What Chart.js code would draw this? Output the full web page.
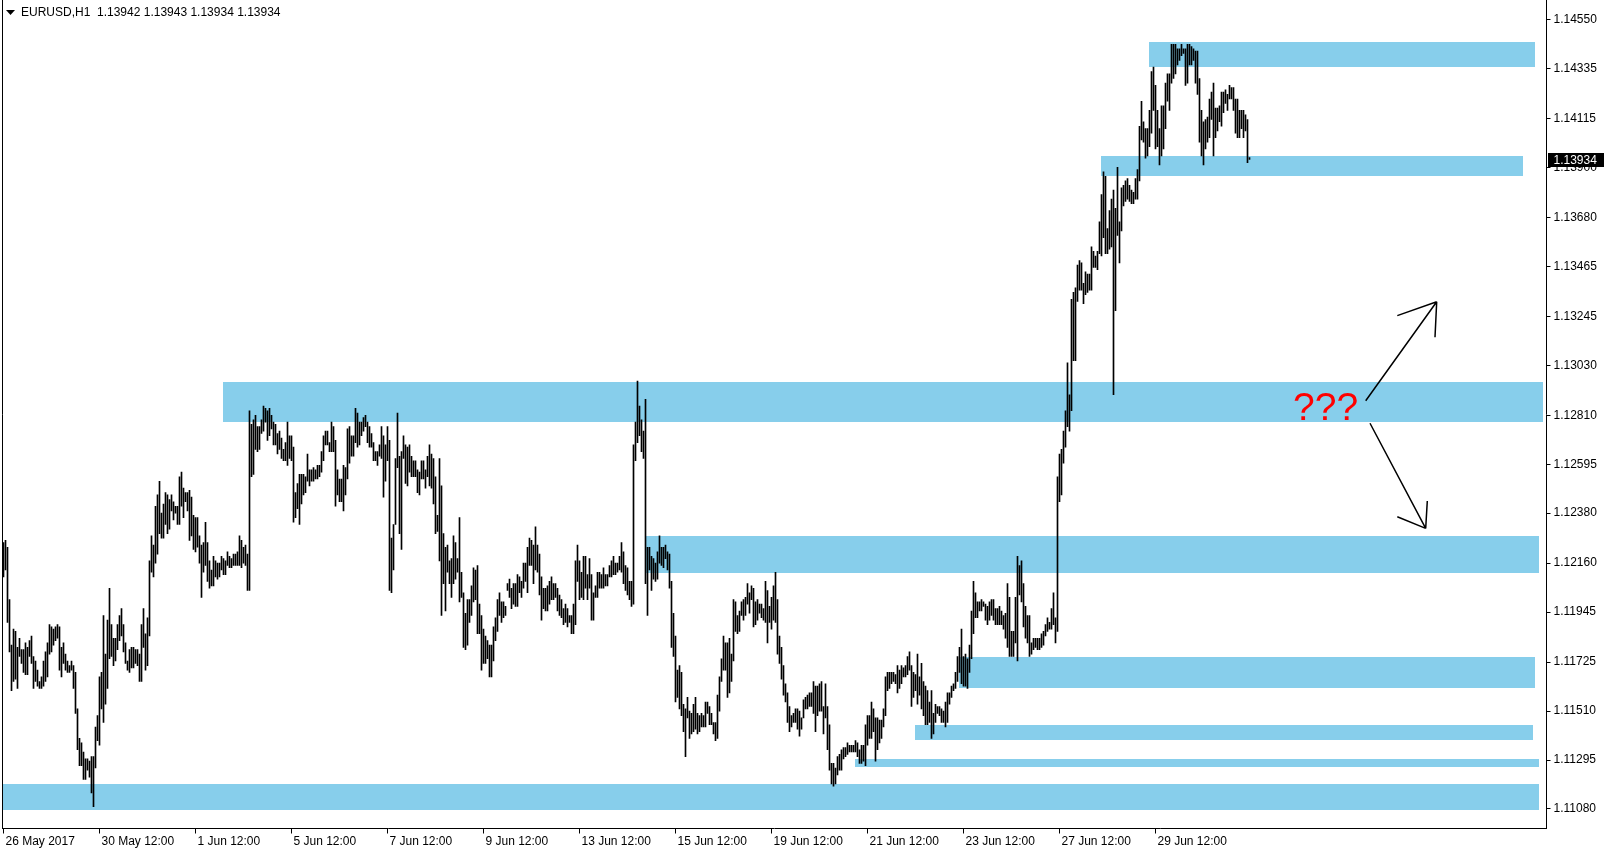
<!DOCTYPE html>
<html>
<head>
<meta charset="utf-8">
<script src="https://cdn.jsdelivr.net/npm/chart.js@4"></script>
<style>
  html, body { margin: 0; padding: 0; background: #fff; }
  canvas { display: block; }
</style>
</head>
<body>
<canvas id="grafica" width="1606" height="852"></canvas>
<script>
// EURUSD H1, one bar per hour starting 26 May 2017 12:00
const highs = [
  1.1225,1.1226,1.1223,1.1200,1.1180,1.1187,1.1186,1.1179,1.1183,1.1178,
  1.1178,1.1181,1.1179,1.1182,1.1184,1.1175,1.1173,1.1169,1.1164,1.1166,
  1.1173,1.1177,1.1181,1.1189,1.1188,1.1187,1.1188,1.1189,1.1188,1.1179,
  1.1181,1.1176,1.1173,1.1171,1.1173,1.1171,1.1168,1.1152,1.1139,1.1137,
  1.1133,1.1130,1.1130,1.1129,1.1131,1.1131,1.1144,1.1149,1.1166,1.1168,
  1.1193,1.1176,1.1191,1.1205,1.1189,1.1183,1.1183,1.1189,1.1193,1.1196,
  1.1189,1.1181,1.1173,1.1178,1.1179,1.1179,1.1178,1.1178,1.1176,1.1189,
  1.1196,1.1185,1.1192,1.1217,1.1228,1.1224,1.1241,1.1246,1.1252,1.1238,
  1.1242,1.1247,1.1246,1.1244,1.1246,1.1243,1.1241,1.1241,1.1254,1.1256,
  1.1249,1.1247,1.1247,1.1248,1.1245,1.1237,1.1236,1.1236,1.1228,1.1224,
  1.1225,1.1234,1.1225,1.1217,1.1213,1.1219,1.1217,1.1216,1.1216,1.1219,
  1.1218,1.1217,1.1221,1.1219,1.1218,1.1220,1.1220,1.1221,1.1228,1.1226,
  1.1223,1.1224,1.1220,1.1283,1.1277,1.1279,1.1281,1.1276,1.1276,1.1279,
  1.1285,1.1284,1.1283,1.1284,1.1281,1.1278,1.1277,1.1273,1.1274,1.1271,
  1.1266,1.1269,1.1278,1.1272,1.1272,1.1267,1.1247,1.1251,1.1255,1.1255,
  1.1255,1.1254,1.1264,1.1257,1.1257,1.1258,1.1257,1.1259,1.1259,1.1265,
  1.1272,1.1274,1.1274,1.1269,1.1278,1.1276,1.1270,1.1257,1.1253,1.1253,
  1.1259,1.1258,1.1275,1.1276,1.1272,1.1272,1.1284,1.1282,1.1278,1.1278,
  1.1280,1.1281,1.1278,1.1276,1.1273,1.1269,1.1265,1.1265,1.1268,1.1276,
  1.1272,1.1268,1.1276,1.1270,1.1227,1.1233,1.1262,1.1282,1.1263,1.1265,
  1.1272,1.1268,1.1267,1.1268,1.1263,1.1261,1.1261,1.1257,1.1256,1.1261,
  1.1261,1.1257,1.1263,1.1268,1.1264,1.1262,1.1254,1.1237,1.1262,1.1250,
  1.1229,1.1223,1.1224,1.1217,1.1218,1.1228,1.1225,1.1218,1.1236,1.1212,
  1.1203,1.1194,1.1200,1.1200,1.1206,1.1214,1.1213,1.1215,1.1198,1.1193,
  1.1187,1.1184,1.1182,1.1180,1.1180,1.1188,1.1192,1.1200,1.1203,1.1199,
  1.1199,1.1197,1.1207,1.1209,1.1205,1.1207,1.1207,1.1211,1.1210,1.1208,
  1.1216,1.1216,1.1223,1.1227,1.1226,1.1224,1.1232,1.1224,1.1220,1.1210,
  1.1205,1.1205,1.1206,1.1208,1.1210,1.1207,1.1207,1.1205,1.1202,1.1200,
  1.1196,1.1198,1.1196,1.1193,1.1193,1.1198,1.1217,1.1224,1.1217,1.1212,
  1.1219,1.1219,1.1211,1.1218,1.1211,1.1203,1.1206,1.1212,1.1212,1.1211,
  1.1214,1.1211,1.1211,1.1215,1.1217,1.1219,1.1216,1.1216,1.1219,1.1225,
  1.1221,1.1215,1.1214,1.1208,1.1208,1.1268,1.1278,1.1296,1.1285,1.1279,
  1.1274,1.1288,1.1223,1.1223,1.1219,1.1218,1.1216,1.1221,1.1228,1.1223,
  1.1223,1.1224,1.1221,1.1220,1.1208,1.1194,1.1184,1.1169,1.1171,1.1168,
  1.1154,1.1152,1.1157,1.1151,1.1150,1.1154,1.1157,1.1150,1.1149,1.1150,
  1.1149,1.1155,1.1155,1.1153,1.1150,1.1146,1.1146,1.1158,1.1166,1.1174,
  1.1184,1.1181,1.1181,1.1183,1.1176,1.1200,1.1199,1.1193,1.1195,1.1199,
  1.1200,1.1201,1.1207,1.1203,1.1206,1.1205,1.1199,1.1200,1.1198,1.1198,
  1.1196,1.1208,1.1204,1.1197,1.1201,1.1206,1.1212,1.1200,1.1184,1.1179,
  1.1171,1.1163,1.1159,1.1153,1.1149,1.1150,1.1152,1.1152,1.1151,1.1148,
  1.1156,1.1157,1.1158,1.1159,1.1159,1.1164,1.1162,1.1162,1.1163,1.1164,
  1.1153,1.1163,1.1153,1.1145,1.1128,1.1128,1.1126,1.1131,1.1132,1.1134,
  1.1135,1.1135,1.1137,1.1136,1.1136,1.1136,1.1138,1.1137,1.1134,1.1136,
  1.1136,1.1145,1.1149,1.1149,1.1155,1.1152,1.1148,1.1148,1.1147,1.1147,
  1.1152,1.1166,1.1168,1.1168,1.1168,1.1168,1.1167,1.1171,1.1169,1.1171,
  1.1170,1.1171,1.1175,1.1177,1.1171,1.1168,1.1167,1.1176,1.1166,1.1172,
  1.1164,1.1162,1.1160,1.1155,1.1160,1.1150,1.1154,1.1153,1.1153,1.1152,
  1.1151,1.1155,1.1159,1.1159,1.1162,1.1163,1.1168,1.1175,1.1179,1.1187,
  1.1175,1.1176,1.1174,1.1180,1.1195,1.1208,1.1203,1.1199,1.1199,1.1200,
  1.1199,1.1198,1.1197,1.1199,1.1200,1.1200,1.1196,1.1196,1.1197,1.1195,
  1.1193,1.1194,1.1207,1.1201,1.1186,1.1186,1.1201,1.1219,1.1215,1.1217,
  1.1207,1.1197,1.1193,1.1193,1.1181,1.1183,1.1183,1.1183,1.1183,1.1185,
  1.1186,1.1189,1.1192,1.1190,1.1196,1.1203,1.1192,1.1254,1.1264,1.1266,
  1.1274,1.1283,1.1304,1.1290,1.1332,1.1335,1.1337,1.1347,1.1349,1.1348,
  1.1339,1.1344,1.1343,1.1343,1.1355,1.1353,1.1351,1.1353,1.1366,1.1378,
  1.1388,1.1386,1.1363,1.1371,1.1376,1.1380,1.1372,1.1390,1.1366,1.1381,
  1.1382,1.1384,1.1385,1.1382,1.1380,1.1379,1.1385,1.1389,1.1408,1.1419,
  1.1410,1.1407,1.1407,1.1415,1.1432,1.1434,1.1426,1.1415,1.1407,1.1417,
  1.1417,1.1427,1.1431,1.1431,1.1444,1.1444,1.1444,1.1442,1.1442,1.1444,
  1.1442,1.1442,1.1444,1.1444,1.1443,1.1442,1.1441,1.1441,1.1429,1.1415,
  1.1410,1.1411,1.1412,1.1420,1.1423,1.1427,1.1416,1.1416,1.1417,1.1423,
  1.1423,1.1424,1.1422,1.1426,1.1425,1.1425,1.1420,1.1420,1.1415,1.1415,
  1.1415,1.1413,1.1411,1.13943
];

const lows = [
  1.1210,1.1213,1.1190,1.1177,1.1160,1.1164,1.1165,1.1161,1.1175,1.1172,
  1.1168,1.1167,1.1167,1.1175,1.1172,1.1161,1.1164,1.1162,1.1161,1.1161,
  1.1162,1.1164,1.1166,1.1176,1.1177,1.1180,1.1182,1.1183,1.1169,1.1166,
  1.1172,1.1169,1.1168,1.1168,1.1169,1.1161,1.1150,1.1134,1.1127,1.1127,
  1.1121,1.1121,1.1125,1.1122,1.1115,1.1109,1.1126,1.1138,1.1136,1.1152,
  1.1146,1.1154,1.1161,1.1174,1.1175,1.1171,1.1173,1.1178,1.1182,1.1184,
  1.1177,1.1172,1.1169,1.1168,1.1170,1.1170,1.1172,1.1171,1.1164,1.1164,
  1.1179,1.1169,1.1171,1.1184,1.1212,1.1210,1.1216,1.1220,1.1229,1.1227,
  1.1227,1.1233,1.1229,1.1231,1.1239,1.1235,1.1238,1.1233,1.1233,1.1241,
  1.1236,1.1243,1.1239,1.1226,1.1228,1.1222,1.1221,1.1223,1.1216,1.1201,
  1.1212,1.1215,1.1208,1.1205,1.1206,1.1206,1.1210,1.1209,1.1210,1.1213,
  1.1211,1.1211,1.1215,1.1214,1.1214,1.1215,1.1215,1.1215,1.1215,1.1214,
  1.1216,1.1215,1.1204,1.1204,1.1254,1.1255,1.1266,1.1265,1.1266,1.1273,
  1.1274,1.1278,1.1270,1.1272,1.1275,1.1268,1.1268,1.1264,1.1266,1.1262,
  1.1261,1.1261,1.1259,1.1262,1.1261,1.1234,1.1236,1.1240,1.1233,1.1242,
  1.1246,1.1247,1.1252,1.1250,1.1252,1.1252,1.1253,1.1253,1.1254,1.1256,
  1.1261,1.1268,1.1268,1.1265,1.1265,1.1265,1.1241,1.1246,1.1243,1.1243,
  1.1239,1.1246,1.1253,1.1260,1.1263,1.1263,1.1269,1.1267,1.1268,1.1272,
  1.1274,1.1276,1.1269,1.1267,1.1267,1.1261,1.1261,1.1259,1.1263,1.1262,
  1.1245,1.1252,1.1261,1.1204,1.1203,1.1213,1.1233,1.1258,1.1229,1.1222,
  1.1262,1.1251,1.1250,1.1256,1.1254,1.1254,1.1254,1.1247,1.1246,1.1253,
  1.1253,1.1249,1.1254,1.1250,1.1249,1.1242,1.1229,1.1230,1.1217,1.1193,
  1.1207,1.1195,1.1212,1.1207,1.1201,1.1207,1.1209,1.1212,1.1199,1.1201,
  1.1179,1.1178,1.1180,1.1190,1.1193,1.1199,1.1200,1.1185,1.1185,1.1169,
  1.1172,1.1172,1.1174,1.1166,1.1166,1.1173,1.1182,1.1186,1.1193,1.1190,
  1.1192,1.1193,1.1204,1.1201,1.1196,1.1198,1.1197,1.1197,1.1203,1.1201,
  1.1205,1.1208,1.1203,1.1215,1.1215,1.1207,1.1213,1.1212,1.1202,1.1191,
  1.1196,1.1195,1.1195,1.1198,1.1200,1.1200,1.1201,1.1195,1.1193,1.1192,
  1.1189,1.1190,1.1188,1.1190,1.1185,1.1185,1.1189,1.1208,1.1200,1.1201,
  1.1200,1.1205,1.1200,1.1205,1.1191,1.1191,1.1201,1.1201,1.1205,1.1205,
  1.1205,1.1206,1.1206,1.1210,1.1210,1.1211,1.1211,1.1212,1.1213,1.1212,
  1.1207,1.1204,1.1202,1.1200,1.1197,1.1198,1.1261,1.1269,1.1272,1.1265,
  1.1262,1.1207,1.1193,1.1213,1.1204,1.1209,1.1208,1.1209,1.1216,1.1215,
  1.1214,1.1218,1.1213,1.1205,1.1179,1.1175,1.1155,1.1157,1.1152,1.1149,
  1.1142,1.1131,1.1148,1.1139,1.1141,1.1142,1.1143,1.1141,1.1142,1.1144,
  1.1144,1.1144,1.1150,1.1145,1.1145,1.1141,1.1138,1.1139,1.1151,1.1164,
  1.1169,1.1169,1.1157,1.1159,1.1164,1.1173,1.1186,1.1185,1.1186,1.1193,
  1.1191,1.1193,1.1198,1.1194,1.1200,1.1188,1.1189,1.1191,1.1194,1.1192,
  1.1191,1.1190,1.1181,1.1190,1.1187,1.1191,1.1190,1.1176,1.1172,1.1165,
  1.1158,1.1155,1.1146,1.1142,1.1144,1.1146,1.1146,1.1143,1.1140,1.1143,
  1.1148,1.1152,1.1152,1.1153,1.1153,1.1150,1.1142,1.1149,1.1151,1.1151,
  1.1141,1.1148,1.1134,1.1125,1.1119,1.1118,1.1119,1.1123,1.1125,1.1125,
  1.1130,1.1131,1.1132,1.1133,1.1133,1.1133,1.1133,1.1131,1.1128,1.1128,
  1.1129,1.1127,1.1136,1.1139,1.1139,1.1142,1.1129,1.1134,1.1137,1.1139,
  1.1144,1.1149,1.1160,1.1161,1.1163,1.1164,1.1163,1.1159,1.1161,1.1163,
  1.1166,1.1166,1.1167,1.1169,1.1153,1.1157,1.1160,1.1154,1.1158,1.1152,
  1.1149,1.1145,1.1145,1.1146,1.1139,1.1141,1.1146,1.1150,1.1149,1.1146,
  1.1146,1.1144,1.1146,1.1154,1.1157,1.1160,1.1161,1.1164,1.1168,1.1163,
  1.1162,1.1162,1.1161,1.1168,1.1174,1.1185,1.1192,1.1192,1.1195,1.1195,
  1.1197,1.1191,1.1189,1.1191,1.1193,1.1191,1.1189,1.1189,1.1189,1.1189,
  1.1187,1.1183,1.1179,1.1175,1.1175,1.1175,1.1181,1.1173,1.1202,1.1199,
  1.1188,1.1183,1.1181,1.1175,1.1176,1.1178,1.1179,1.1178,1.1178,1.1179,
  1.1180,1.1184,1.1186,1.1187,1.1187,1.1189,1.1181,1.1186,1.1243,1.1246,
  1.1260,1.1267,1.1276,1.1274,1.1283,1.1305,1.1305,1.1331,1.1336,1.1336,
  1.1330,1.1334,1.1335,1.1336,1.1336,1.1346,1.1346,1.1345,1.1352,1.1351,
  1.1359,1.1352,1.1352,1.1354,1.1355,1.1290,1.1327,1.1360,1.1348,1.1362,
  1.1373,1.1375,1.1376,1.1375,1.1374,1.1374,1.1376,1.1376,1.1384,1.1402,
  1.1401,1.1394,1.1395,1.1399,1.1405,1.1415,1.1398,1.1399,1.1391,1.1395,
  1.1398,1.1407,1.1419,1.1415,1.1427,1.1429,1.1431,1.1435,1.1437,1.1439,
  1.1440,1.1426,1.1427,1.1435,1.1435,1.1437,1.1427,1.1422,1.1401,1.1395,
  1.1391,1.1398,1.1401,1.1403,1.1411,1.1395,1.1403,1.1406,1.1410,1.1408,
  1.1414,1.1418,1.1415,1.1420,1.1420,1.1415,1.1405,1.1403,1.1403,1.1407,
  1.1403,1.1406,1.1392,1.13934
];

// etiquetas del eje X (una cada 48 barras) y del eje Y
const xTickLabels = ['26 May 2017', '30 May 12:00', '1 Jun 12:00', '5 Jun 12:00', '7 Jun 12:00',
  '9 Jun 12:00', '13 Jun 12:00', '15 Jun 12:00', '19 Jun 12:00', '21 Jun 12:00',
  '23 Jun 12:00', '27 Jun 12:00', '29 Jun 12:00'];
const barsPerLabel = 48;
const yTickValues = [1.14550, 1.14335, 1.14115, 1.13900, 1.13680, 1.13465, 1.13245, 1.13030,
  1.12810, 1.12595, 1.12380, 1.12160, 1.11945, 1.11725, 1.11510, 1.11295, 1.11080];

const lastQuote = [1.13942, 1.13943, 1.13934, 1.13934]; // O H L C
const totalSlots = 772; // hueco a la derecha de la ultima barra

// zonas de soporte / resistencia (indice de barra, precio)
const zones = [
  { from: 572.75, to: 765.75, top: 1.14450, bottom: 1.14342 },
  { from: 548.75, to: 759.6, top: 1.13949, bottom: 1.13863 },
  { from: 109.75, to: 769.75, top: 1.12956, bottom: 1.12782 },
  { from: 321.1, to: 767.75, top: 1.12280, bottom: 1.12118 },
  { from: 477.75, to: 765.75, top: 1.11748, bottom: 1.11613 },
  { from: 455.5, to: 764.75, top: 1.11449, bottom: 1.11383 },
  { from: 425.75, to: 767.75, top: 1.11300, bottom: 1.11266 },
  { from: -0.25, to: 767.75, top: 1.11190, bottom: 1.11076 }
];

const arrows = [
  { from: [681.1, 1.12874], tip: [716.6, 1.13309], heads: [[696.9, 1.13248], [715.75, 1.13153]] },
  { from: [683.25, 1.12775], tip: [711.1, 1.12313], heads: [[696.9, 1.12364], [711.9, 1.12433]] }
];
const questionMark = { text: '???', at: [644.75, 1.12789] };

const FONT = "'Liberation Sans', Arial, sans-serif";
Chart.defaults.font.family = FONT;
Chart.defaults.font.size = 12;
Chart.defaults.color = '#000';

const slots = Array.from({ length: totalSlots }, (_, i) => i);
const bars = lows.map((lo, i) => [lo, highs[i]]);

const dibujos = {
  id: 'dibujos',
  beforeDatasetsDraw(chart) {
    const { ctx, scales: { x, y } } = chart;
    ctx.save();
    ctx.fillStyle = '#87CEEB';
    zones.forEach(z => {
      const l = Math.round(x.getPixelForValue(z.from));
      const r = Math.round(x.getPixelForValue(z.to));
      const t = Math.round(y.getPixelForValue(z.top));
      const b = Math.round(y.getPixelForValue(z.bottom));
      ctx.fillRect(l, t, r - l, b - t);
    });
    ctx.restore();
  },
  afterDraw(chart) {
    const { ctx, chartArea, scales: { x, y } } = chart;
    const px = p => [x.getPixelForValue(p[0]), y.getPixelForValue(p[1])];
    ctx.save();

    // borde izquierdo
    ctx.strokeStyle = '#000';
    ctx.lineWidth = 1;
    ctx.beginPath();
    ctx.moveTo(chartArea.left, 0);
    ctx.lineTo(chartArea.left, chartArea.bottom);
    ctx.stroke();

    // flechas
    ctx.lineWidth = 1.5;
    arrows.forEach(a => {
      const [x0, y0] = px(a.from);
      const [x1, y1] = px(a.tip);
      ctx.beginPath();
      ctx.moveTo(x0, y0);
      ctx.lineTo(x1, y1);
      a.heads.forEach(h => {
        const [hx, hy] = px(h);
        ctx.moveTo(x1, y1);
        ctx.lineTo(hx, hy);
      });
      ctx.stroke();
    });

    // ???
    const [qx, qy] = px(questionMark.at);
    ctx.fillStyle = '#FF0000';
    ctx.font = '39px ' + FONT;
    ctx.textAlign = 'left';
    ctx.textBaseline = 'alphabetic';
    ctx.fillText(questionMark.text, qx, qy);

    // titulo
    ctx.fillStyle = '#000';
    ctx.beginPath();
    ctx.moveTo(6, 10);
    ctx.lineTo(15, 10);
    ctx.lineTo(10.5, 15);
    ctx.closePath();
    ctx.fill();
    ctx.font = '12px ' + FONT;
    ctx.textBaseline = 'middle';
    ctx.fillText('EURUSD,H1  ' + lastQuote.map(v => v.toFixed(5)).join(' '), 21, 12.5);

    // precio actual
    const cy = Math.round(y.getPixelForValue(lastQuote[3]));
    ctx.fillStyle = '#000';
    ctx.fillRect(chartArea.right + 1.5, cy - 7, 56, 14);
    ctx.fillStyle = '#fff';
    ctx.fillText(lastQuote[3].toFixed(5), chartArea.right + 7, cy + 0.5);
    ctx.restore();
  }
};

const ctx = document.getElementById('grafica').getContext('2d');
new Chart(ctx, {
  type: 'bar',
  data: {
    labels: slots,
    datasets: [{
      data: bars,
      backgroundColor: '#000',
      borderWidth: 0,
      barThickness: 1,
      minBarLength: 1
    }]
  },
  options: {
    responsive: false,
    animation: false,
    events: [],
    layout: { padding: { left: 2.5, top: 0, right: 0, bottom: 0 } },
    plugins: { legend: { display: false }, tooltip: { enabled: false } },
    scales: {
      x: {
        type: 'category',
        offset: true,
        grid: { drawOnChartArea: false, tickLength: 5, color: '#000', offset: false },
        border: { display: true, color: '#000', width: 1 },
        ticks: {
          autoSkip: false,
          maxRotation: 0,
          minRotation: 0,
          align: 'start',
          labelOffset: 2,
          padding: 1,
          font: { size: 12 },
          callback: v => xTickLabels[v / barsPerLabel]
        },
        afterBuildTicks: s => {
          s.ticks = s.ticks.filter(t => t.value % barsPerLabel === 0 && t.value / barsPerLabel < xTickLabels.length);
        },
        afterFit: s => {
          s.height = 23.5;
          s.paddingLeft = 0;
          s.paddingRight = 0;
        }
      },
      y: {
        position: 'right',
        min: 1.10994,
        max: 1.14635,
        grid: { drawOnChartArea: false, tickLength: 4, color: '#000' },
        border: { display: true, color: '#000', width: 1 },
        ticks: {
          padding: 3,
          font: { size: 12 },
          callback: v => Number(v).toFixed(5)
        },
        afterBuildTicks: s => { s.ticks = yTickValues.map(v => ({ value: v })); },
        afterFit: s => {
          s.width = 59.5;
          s.paddingTop = 0;
          s.paddingBottom = 0;
        }
      }
    }
  },
  plugins: [dibujos]
});
</script>
</body>
</html>
